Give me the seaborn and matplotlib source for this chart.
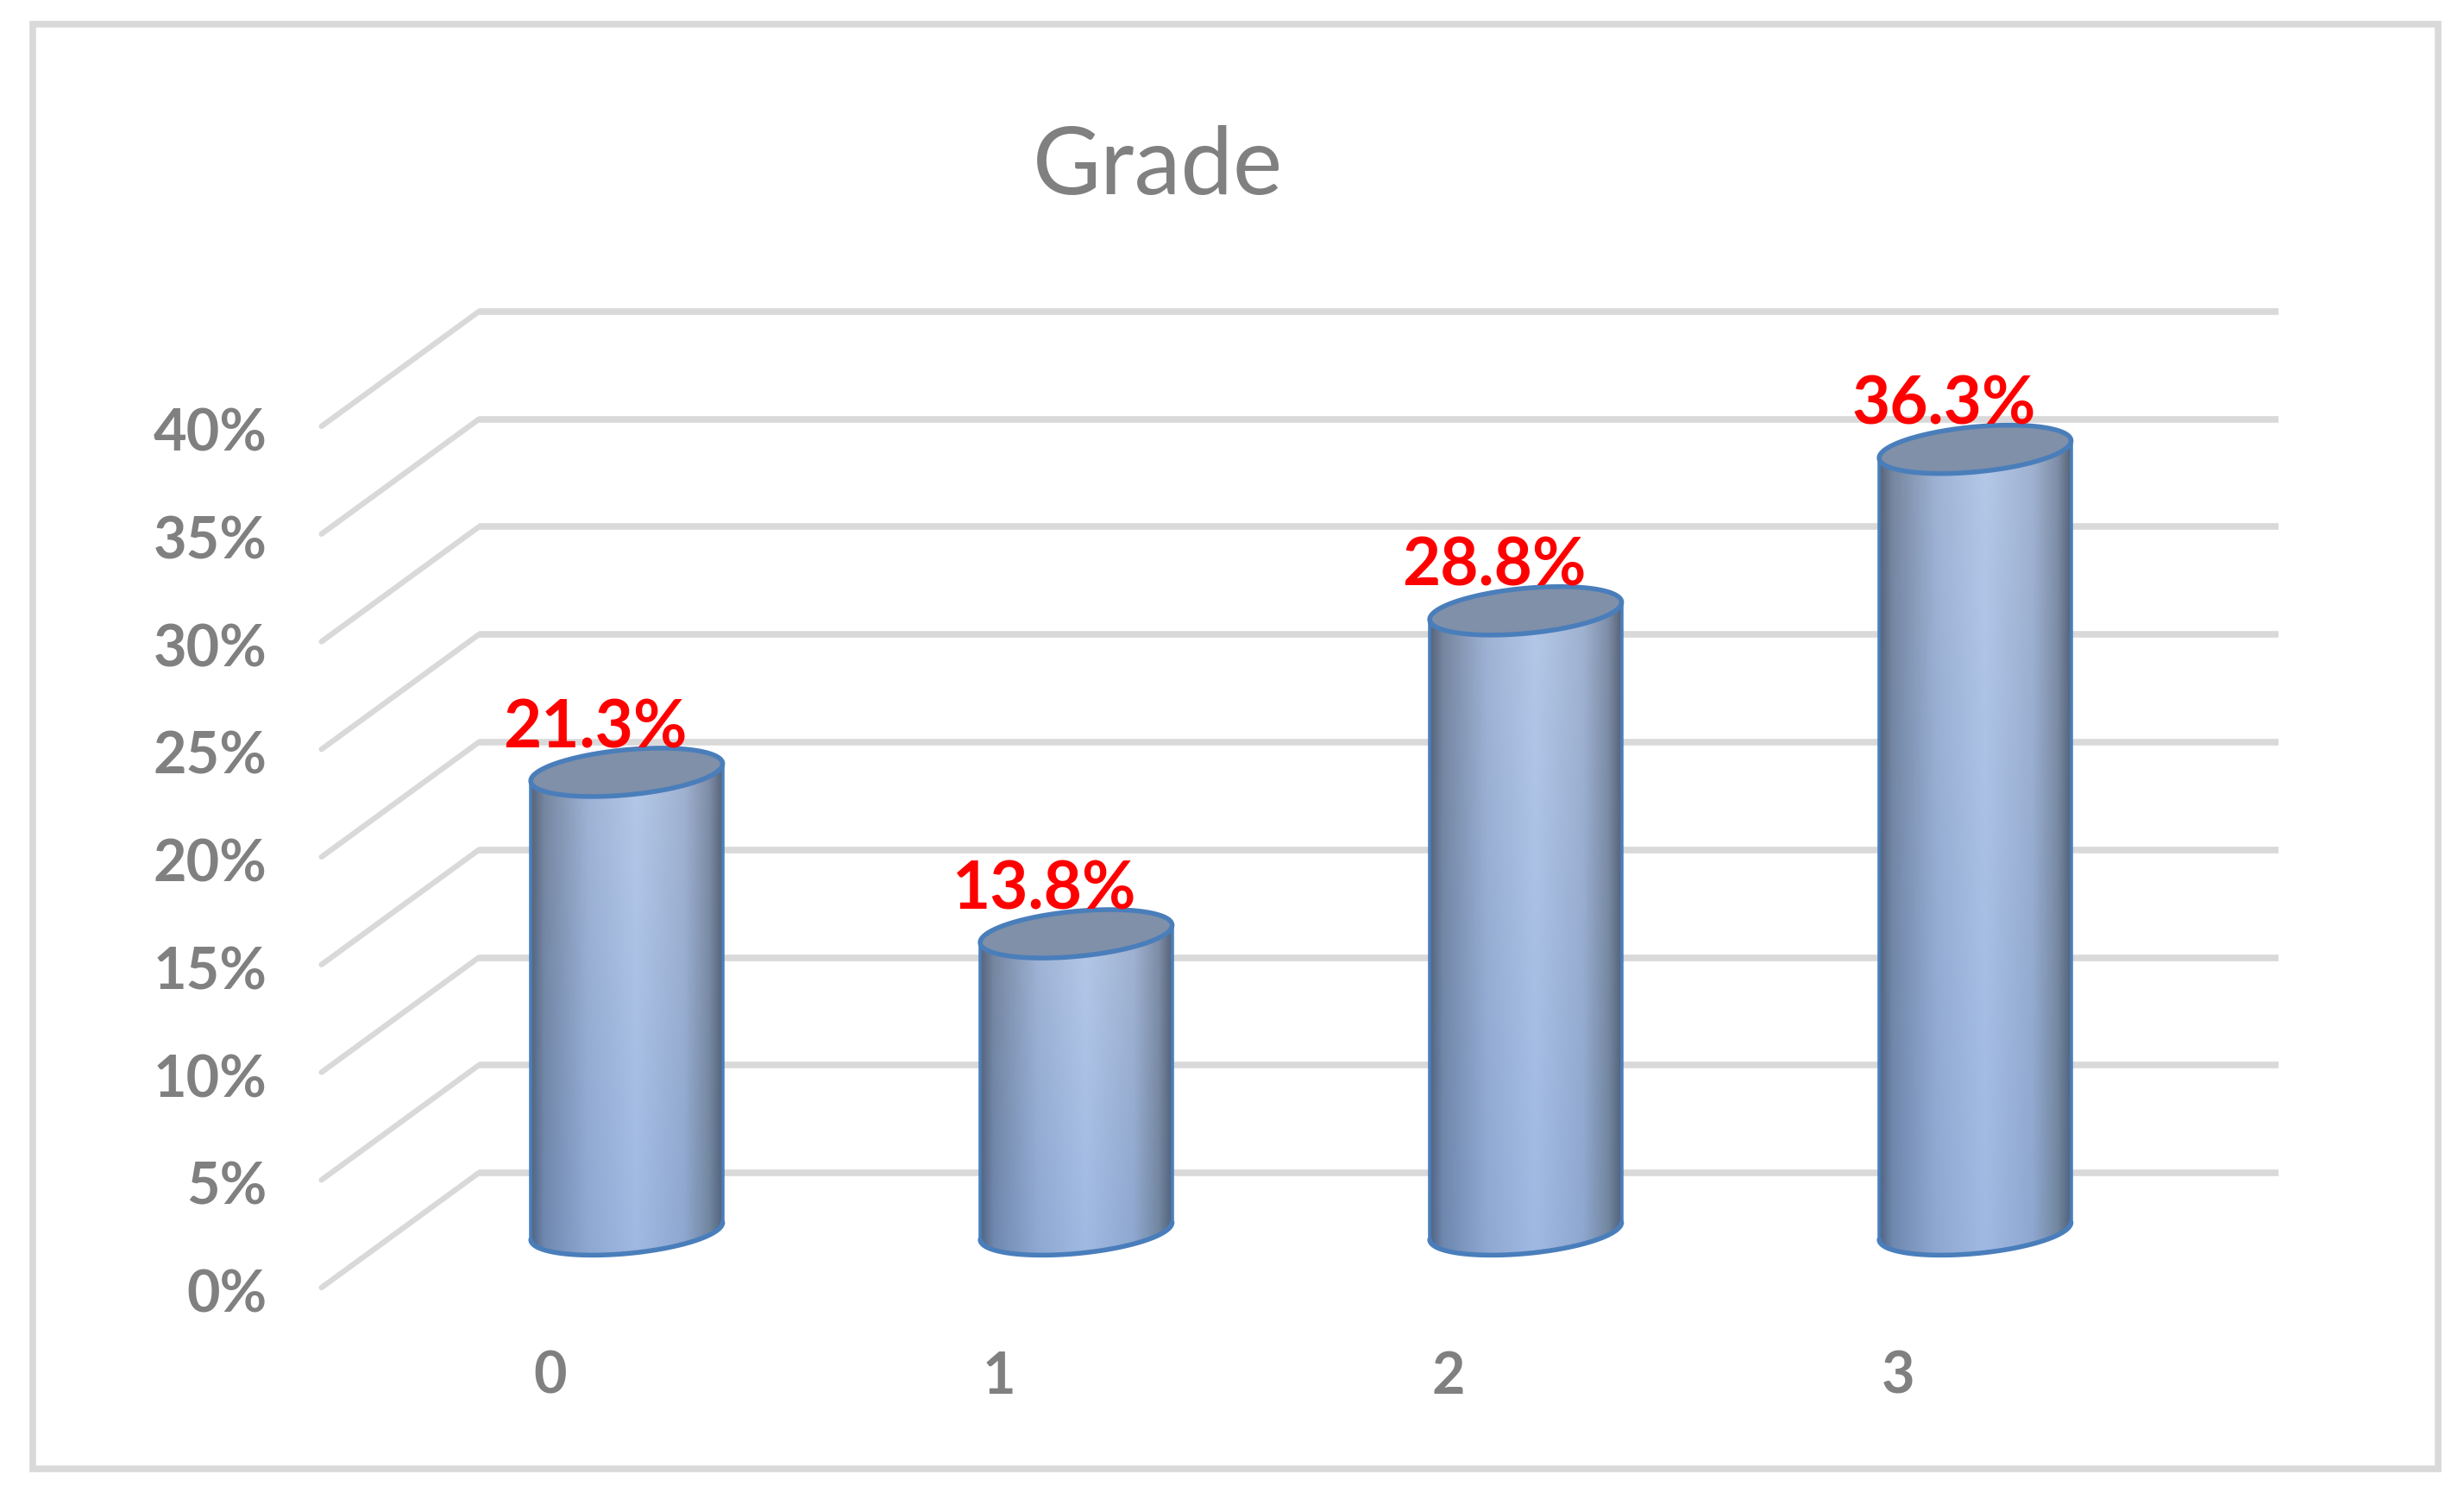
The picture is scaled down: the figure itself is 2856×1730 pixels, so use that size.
import numpy as np
import pandas as pd
import matplotlib
matplotlib.use("Agg")
import matplotlib.pyplot as plt
import seaborn as sns
from matplotlib.colors import LinearSegmentedColormap
from matplotlib.patches import PathPatch, Rectangle
from matplotlib.path import Path

grades = ["0", "1", "2", "3"]
shares = [21.3, 13.8, 28.8, 36.3]
y_ticks = [0, 5, 10, 15, 20, 25, 30, 35, 40]
y_labels = ["0%", "5%", "10%", "15%", "20%", "25%", "30%", "35%", "40%"]

# Style
sns.set_theme(style="white")
plt.rcParams["font.family"] = ["Lato", "DejaVu Sans"]

GRID = "#d9d9d9"
TEXT = "#808080"
EDGE = "#4a7ebb"
LID = "#8090a8"

W, H = 2856, 1730
fig = plt.figure(figsize=(W / 100, H / 100), dpi=100, facecolor="white")

# Axes is the back wall of the fake 3D box
left, right = 555, 2641
top, bottom = 361, 1359
ax = fig.add_axes([left / W, 1 - bottom / H, (right - left) / W, (bottom - top) / H])
ax.patch.set_alpha(0)
ax.axis("off")

fig.add_artist(Rectangle((38 / W, 1 - 1702 / H), 2788 / W, 1674 / H, transform=fig.transFigure,
                         fill=False, edgecolor=GRID, linewidth=5.5))

df = pd.DataFrame({"grade": grades, "share": shares})
floor = -2.7  # bars stand halfway into the floor
sns.barplot(data=df, x="grade", y="share", ax=ax, width=0.427, bottom=floor,
            color="#9db7e0", saturation=1, zorder=3)

xlim = (-0.329, 3.675)
ylim = (0, 40)
depth_x, depth_y = -0.35, -5.33

# Walls
for v, lab in zip(y_ticks, y_labels):
    ax.plot(xlim, [v, v], color=GRID, lw=5.5, clip_on=False, zorder=1, solid_capstyle="butt")
    ax.plot([xlim[0], xlim[0] + depth_x], [v, v + depth_y], color=GRID, lw=4.6,
            clip_on=False, zorder=1, solid_capstyle="round")
    ax.text(xlim[0] + depth_x - 0.121, v + depth_y - 0.15, lab, ha="right", va="center_baseline",
            fontsize=48, fontweight="bold", color=TEXT, clip_on=False)

for i, lab in enumerate(grades):
    ax.text(i - 0.171, floor - 6.55, lab, ha="center", va="center_baseline", fontsize=48,
            fontweight="bold", color=TEXT, clip_on=False)

# Cylinder shading
stops = [0, 0.07, 0.3, 0.55, 0.8, 0.93, 1]
upper = ["#566378", "#76869f", "#9fb3d4", "#b4c8e8", "#a0b2d0", "#7f8ea8", "#566276"]
lower = ["#4f6484", "#6f88af", "#8ea8d2", "#9fb9e2", "#8ea7d0", "#71869f", "#50627e"]
cmap_up = LinearSegmentedColormap.from_list("up", list(zip(stops, upper)))
cmap_lo = LinearSegmentedColormap.from_list("lo", list(zip(stops, lower)))
across = np.linspace(0, 1, 256)
rgb_up = cmap_up(across)[:, :3]
rgb_lo = cmap_lo(across)[:, :3]
tilt, minor = 0.40, 1.05
t = np.linspace(0, 2 * np.pi, 121)

for p, val in zip(ax.patches[:len(shares)], shares):
    x0, w = p.get_x(), p.get_width()
    cx, half = x0 + w / 2, w / 2
    y_top = floor + val
    # top and base ellipses, same shape
    ex = cx + half * np.cos(t)
    ey = tilt * np.cos(t) + minor * np.sin(t)
    low = t[60:121]  # pi..2pi, lower half left to right
    lx = cx + half * np.cos(low)
    ly = floor + tilt * np.cos(low) + minor * np.sin(low)
    body_x = np.r_[lx, cx + half, cx - half, lx[0]]
    body_y = np.r_[ly, y_top + tilt, y_top - tilt, ly[0]]
    body = PathPatch(Path(np.c_[body_x, body_y]), facecolor="none", edgecolor="none",
                     transform=ax.transData, clip_on=False)
    ax.add_patch(body)
    p.set_visible(False)

    mix = np.linspace(0, 1, 128)[:, None, None]
    img = rgb_up[None, :, :] * (1 - mix) + rgb_lo[None, :, :] * mix
    im = ax.imshow(img, extent=(x0, x0 + w, floor - minor - tilt, y_top + tilt), origin="upper",
                   aspect="auto", zorder=3.2, interpolation="bilinear")
    im.set_clip_box(fig.bbox)
    im.set_clip_path(body)

    ax.plot(lx, ly, color=EDGE, lw=4, zorder=3.5, clip_on=False)
    ax.plot([x0, x0], [floor - tilt, y_top - tilt], color=EDGE, lw=2.6, zorder=3.5, clip_on=False)
    ax.plot([x0 + w, x0 + w], [floor + tilt, y_top + tilt], color=EDGE, lw=2.6, zorder=3.5, clip_on=False)
    ax.fill(ex, y_top + ey, facecolor=LID, edgecolor=EDGE, lw=4, zorder=3.6, clip_on=False)
    ax.text(cx - 0.07, y_top + 2.3, f"{val:.1f}%", ha="center", va="center_baseline", fontsize=55,
            fontweight="bold", color="#ff0000", zorder=4, clip_on=False)

ax.set_xlim(xlim)
ax.set_ylim(ylim)

fig.text(1342 / W, 1 - 185 / H, "Grade", ha="center", va="center_baseline", fontsize=78, color=TEXT)

fig.savefig("out.png", dpi=100, facecolor="white")
